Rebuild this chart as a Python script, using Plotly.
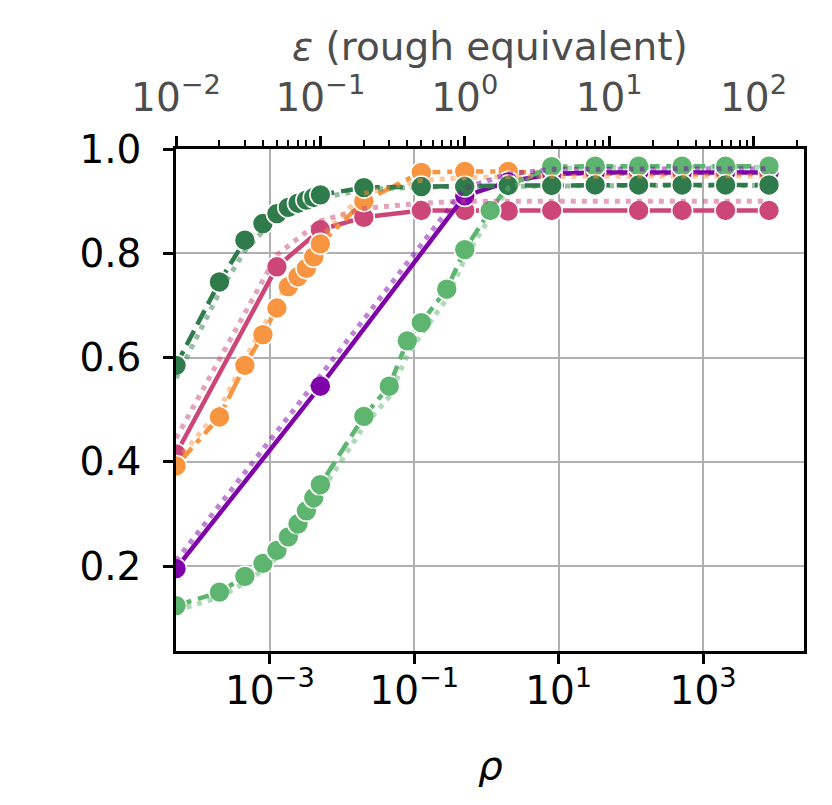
import numpy as np
import plotly.graph_objects as go

# rho values of the evaluated points (rho = eps^2 / 2)
rho_full = [5e-5, 2e-4, 4.5e-4, 8e-4, 1.25e-3, 1.8e-3, 2.45e-3, 3.2e-3, 4.05e-3, 5e-3,
            0.02, 0.125, 0.5, 2, 8, 32, 128, 512, 2048, 8192]
rho_lgreen = [5e-5, 2e-4, 4.5e-4, 8e-4, 1.25e-3, 1.8e-3, 2.45e-3, 3.2e-3, 4.05e-3, 5e-3,
              0.02, 0.045, 0.08, 0.125, 0.28125, 0.5, 1.125, 2, 8, 32, 128, 512, 2048, 8192]
rho_pink = [5e-5, 1.25e-3, 5e-3, 0.02, 0.125, 0.5, 2, 8, 128, 512, 2048, 8192]
rho_purple = [5e-5, 5e-3, 0.5, 2, 8, 32, 128, 512, 2048, 8192]

# accuracy, measured (markers) and dotted companion curves
dgreen = [0.585, 0.745, 0.825, 0.857, 0.876, 0.888, 0.896, 0.902, 0.907, 0.912,
          0.926, 0.928, 0.928, 0.93, 0.93, 0.931, 0.931, 0.931, 0.931, 0.931]
dgreen_dot = [0.56, 0.725, 0.805, 0.842, 0.864, 0.878, 0.888, 0.895, 0.901, 0.906,
              0.922, 0.927, 0.928, 0.929, 0.93, 0.93, 0.93, 0.93, 0.93, 0.93]
orange = [0.392, 0.486, 0.585, 0.644, 0.695, 0.736, 0.755, 0.771, 0.793, 0.818,
          0.90, 0.955, 0.957, 0.957, 0.953, 0.952, 0.952, 0.952, 0.952, 0.952]
orange_dot = [0.40, 0.50, 0.597, 0.657, 0.706, 0.745, 0.77, 0.79, 0.81, 0.83,
              0.915, 0.94, 0.945, 0.947, 0.948, 0.948, 0.948, 0.948, 0.948, 0.948]
lgreen = [0.124, 0.15, 0.18, 0.205, 0.23, 0.256, 0.281, 0.306, 0.331, 0.356,
          0.487, 0.545, 0.632, 0.667, 0.731, 0.807, 0.882, 0.93, 0.966, 0.967,
          0.967, 0.967, 0.967, 0.967]
lgreen_dot = [0.115, 0.14, 0.168, 0.192, 0.216, 0.242, 0.267, 0.292, 0.316, 0.34,
              0.468, 0.525, 0.605, 0.645, 0.712, 0.79, 0.87, 0.925, 0.962, 0.965,
              0.965, 0.965, 0.965, 0.965]
pink = [0.415, 0.774, 0.845, 0.869, 0.882, 0.882, 0.881, 0.882, 0.882, 0.882, 0.882, 0.882]
pink_dot = [0.445, 0.797, 0.862, 0.886, 0.896, 0.9, 0.9, 0.9, 0.9, 0.9, 0.9, 0.9]
purple = [0.195, 0.545, 0.91, 0.937, 0.952, 0.955, 0.955, 0.955, 0.955, 0.955]
purple_dot = [0.21, 0.565, 0.925, 0.952, 0.961, 0.962, 0.962, 0.962, 0.962, 0.962]

DGREEN = "#2f7b4b"
LGREEN = "#5db56f"
PINK = "#cc4778"
ORANGE = "#f89540"
PURPLE = "#7e03a8"


def rgba(hexcol, a):
    h = hexcol.lstrip("#")
    return "rgba(%d,%d,%d,%.2f)" % (int(h[0:2], 16), int(h[2:4], 16), int(h[4:6], 16), a)


fig = go.Figure()

LW = 4.5
MS = 21


def main_trace(x, y, col, dash):
    return go.Scatter(x=x, y=y, mode="lines+markers",
                      line=dict(color=col, width=LW, dash=dash),
                      marker=dict(color=col, size=MS, line=dict(color="white", width=1.6)),
                      showlegend=False)


def dot_trace(x, y, col):
    return go.Scatter(x=x, y=y, mode="lines",
                      line=dict(color=rgba(col, 0.5), width=5, dash="5px,6px"),
                      showlegend=False)


# measured curves, drawn in the reference's stacking order
fig.add_trace(main_trace(rho_pink, pink, PINK, "solid"))
fig.add_trace(main_trace(rho_full, orange, ORANGE, "24px,7px,5px,7px"))
fig.add_trace(main_trace(rho_purple, purple, PURPLE, "solid"))
fig.add_trace(main_trace(rho_lgreen, lgreen, LGREEN, "16px,7px"))
fig.add_trace(main_trace(rho_full, dgreen, DGREEN, "16px,7px"))

# faint dotted companions on top
fig.add_trace(dot_trace(rho_pink, pink_dot, PINK))
fig.add_trace(dot_trace(rho_full, orange_dot, ORANGE))
fig.add_trace(dot_trace(rho_purple, purple_dot, PURPLE))
fig.add_trace(dot_trace(rho_lgreen, lgreen_dot, LGREEN))
fig.add_trace(dot_trace(rho_full, dgreen_dot, DGREEN))

# empty trace so the top (epsilon) axis is drawn
fig.add_trace(go.Scatter(x=[], y=[], xaxis="x2", showlegend=False, hoverinfo="skip"))

FONT = "DejaVu Sans"
FS = 39
GRAY = "#4d4d4d"

x_lo, x_hi = np.log10(5e-5), np.log10(2.5e4)

fig.update_layout(
    width=832, height=805,
    margin=dict(l=168, r=36, t=141, b=162),
    paper_bgcolor="white", plot_bgcolor="white",
    font=dict(family=FONT, size=FS, color="black"),
    xaxis=dict(
        type="log", range=[x_lo, x_hi],
        tickvals=[1e-3, 1e-1, 1e1, 1e3],
        ticktext=["10<sup>−3</sup>", "10<sup>−1</sup>", "10<sup>1</sup>", "10<sup>3</sup>"],
        ticks="outside", ticklen=10, tickwidth=2.5, tickcolor="black",
        ticklabelstandoff=-7,
        showgrid=True, gridcolor="#b0b0b0", gridwidth=2,
        showline=True, linecolor="black", linewidth=2.5,
        zeroline=False,
    ),
    xaxis2=dict(
        type="log", overlaying="x", side="top", anchor="y",
        range=[(x_lo + np.log10(2)) / 2, (x_hi + np.log10(2)) / 2],
        tickvals=[1e-2, 1e-1, 1e0, 1e1, 1e2],
        ticktext=["10<sup>−2</sup>", "10<sup>−1</sup>", "10<sup>0</sup>", "10<sup>1</sup>", "10<sup>2</sup>"],
        tickfont=dict(color=GRAY, size=FS),
        ticks="outside", ticklen=10, tickwidth=2.5, tickcolor="black",
        ticklabelstandoff=10,
        minor=dict(ticks="outside", ticklen=6, tickwidth=1.8, tickcolor="black", dtick="D1", showgrid=False),
        showgrid=False, showline=True, linecolor="black", linewidth=2.5,
        zeroline=False,
    ),
    yaxis=dict(
        range=[0.037, 1.0],
        tickvals=[0.2, 0.4, 0.6, 0.8, 1.0],
        ticktext=["0.2", "0.4", "0.6", "0.8", "1.0"],
        ticks="outside", ticklen=10, tickwidth=2.5, tickcolor="black",
        ticklabelstandoff=14,
        showgrid=True, gridcolor="#b0b0b0", gridwidth=2,
        showline=True, linecolor="black", linewidth=2.5, mirror=True,
        zeroline=False,
    ),
    annotations=[
        dict(text="<i>ρ</i>", x=0.5, y=-0.229, xref="paper", yref="paper", yanchor="middle",
             showarrow=False, font=dict(size=FS, color="black", family=FONT)),
        dict(text="<i>ε</i> (rough equivalent)", x=0.5, y=1.205, xref="paper", yref="paper",
             yanchor="middle", showarrow=False, font=dict(size=FS, color=GRAY, family=FONT)),
    ],
)

fig.write_html("out.html")
